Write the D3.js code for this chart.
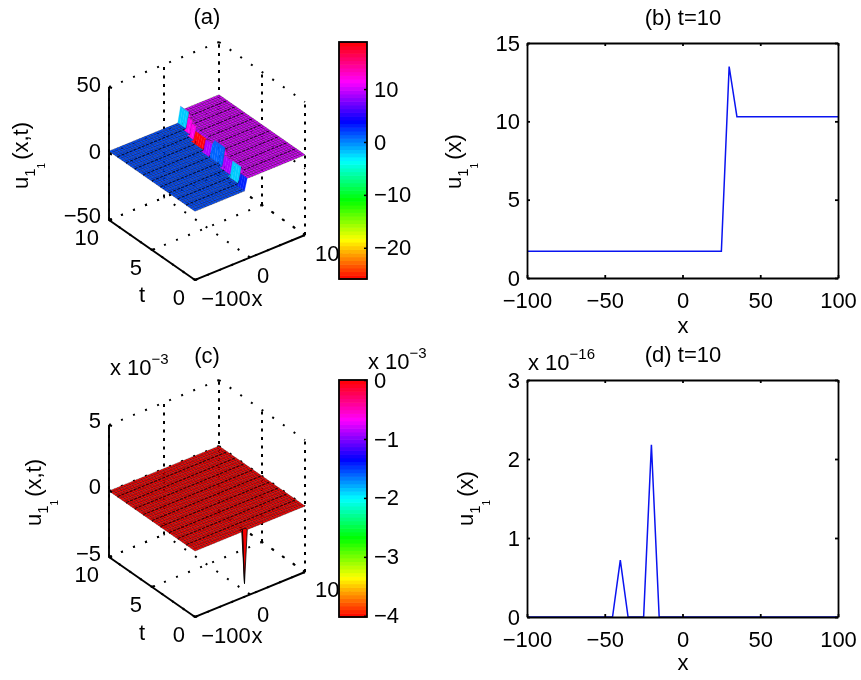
<!DOCTYPE html>
<html><head><meta charset="utf-8">
<style>
html,body{margin:0;padding:0;background:#fff}
svg{display:block;filter:blur(0.6px)}
text{font-family:"Liberation Sans",Arial,sans-serif;fill:#000}
</style>
<script src="https://cdn.jsdelivr.net/npm/d3@7"></script>
</head><body><svg id="c" width="861" height="680"></svg>
<script>
// ---- data ----
const lineBX = [-100, 25, 30, 35, 100];
const lineBY = [1.7, 1.7, 13.5, 10.3, 10.3];
const lineDX = [-100, -45, -40, -35, -25, -20, -15, 100];
const lineDY = [0, 0, 0.72, 0, 0, 2.18, 0, 0];
const ticks2DX = [-100, -50, 0, 50, 100];
const ticksBY = [0, 5, 10, 15];
const ticksDY = [0, 1, 2, 3];
const surfaceX = d3.range(-100, 101, 5);
const surfaceT = d3.range(0, 10.01, 0.25);
// panel (a): travelling step, one entry per ridge segment
const ridgeTEnd = [1, 2.2, 3.5, 4.8, 6, 7.4, 8.2, 9, 10.01];
const ridgeX = [-10, -5, 0, 5, 5, 10, 15, 20, 25];
const ridgeCrest = [10.5, 13.5, 11, 15, 11, 9.5, 11, 11.5, 13.5];
const ridgeWallValue = [3, -2, 9, 1, 9, 18.5, 12, 12, -2];
const levelLeft = 1.7, levelRight = 10.3;
// panel (c): flat sheet with one spike
const spikeX = -10, spikeT = 0, spikeValue = -4;
const ticksZA = [-50, 0, 50], ticksZC = [-5, 0, 5];
const ticksT = [0, 5, 10], ticksX = [-100, 0, 100];
const cbarTicksA = [-20, -10, 0, 10], cbarTicksC = [-4, -3, -2, -1, 0];
const cbarDomainA = [-25.9, 18.9], cbarDomainC = [-4.02, 0];

const svg = d3.select('#c');
const FS = 22;
const minus = s => String(s).replace('-', '\u2212');

function yLabel(x, y, arg) {
  const t = svg.append('text').attr('transform', `translate(${x},${y}) rotate(-90)`).attr('font-size', FS);
  t.append('tspan').text('u');
  t.append('tspan').attr('dy', 7).attr('font-size', 15).text('1');
  t.append('tspan').attr('dy', 10).attr('font-size', 10).text('1');
  t.append('tspan').attr('dy', -17).attr('dx', 3).text(arg);
}
function label(x, y, s, anchor, size) {
  return svg.append('text').attr('x', x).attr('y', y).attr('text-anchor', anchor || 'middle')
    .attr('font-size', size || FS).text(s);
}
function mult(x, y, exp) {
  const t = svg.append('text').attr('x', x).attr('y', y).attr('font-size', FS);
  t.append('tspan').text('x 10');
  t.append('tspan').attr('dy', -11).attr('font-size', 15).text(exp);
}

// ---- 2-D panels ----
function panel2D(box, xs, ys, yTicks, yMax) {
  const x = d3.scaleLinear([-100, 100], [box.l, box.r]);
  const y = d3.scaleLinear([0, yMax], [box.b, box.t]);
  svg.append('path').datum(d3.zip(xs, ys)).attr('fill', 'none').attr('stroke', '#0a14f0').attr('stroke-width', 1.5)
    .attr('d', d3.line().x(d => x(d[0])).y(d => y(d[1])));
  const fmt = d => minus(d);
  const style = g => { g.selectAll('path,line').attr('stroke', '#000').attr('stroke-width', 1.8);
    g.selectAll('text').attr('font-size', FS).attr('font-family', '"Liberation Sans"').attr('fill', '#000'); };
  svg.append('g').attr('transform', `translate(0,${box.b})`)
    .call(d3.axisBottom(x).tickValues(ticks2DX).tickFormat(fmt).tickSizeInner(-3).tickSizeOuter(0).tickPadding(14)).call(style);
  svg.append('g').attr('transform', `translate(0,${box.t})`)
    .call(d3.axisTop(x).tickValues(ticks2DX).tickFormat('').tickSizeInner(-3).tickSizeOuter(0)).call(style);
  svg.append('g').attr('transform', `translate(${box.l},0)`)
    .call(d3.axisLeft(y).tickValues(yTicks).tickFormat(fmt).tickSizeInner(-3).tickSizeOuter(0).tickPadding(7)).call(style);
  svg.append('g').attr('transform', `translate(${box.r},0)`)
    .call(d3.axisRight(y).tickValues(yTicks).tickFormat('').tickSizeInner(-3).tickSizeOuter(0)).call(style);
}

// ---- 3-D panels ----
function panel3D(p) {
  const sx = d3.scaleLinear([-100, 100], [0, 1]);
  const st = d3.scaleLinear([0, 10], [0, 1]);
  const sz = d3.scaleLinear([p.zTicks[0], p.zTicks[2]], [0, 1]);
  const proj = (x, t, z) => [
    p.front[0] + sx(x) * p.xVec[0] + st(t) * p.tVec[0],
    p.front[1] + sx(x) * p.xVec[1] + st(t) * p.tVec[1] - sz(z) * p.zLen
  ];
  const [zMin, zMid, zMax] = p.zTicks;
  const dotted = svg.append('g').attr('fill', 'none').attr('stroke', '#000').attr('stroke-width', 2);
  const seg = (a, b, dash) => dotted.append('path')
    .attr('d', d3.line()([a, b])).attr('stroke-dasharray', dash);
  const DIAG = '2 11', VERT = '3 5.5';
  ticksT.forEach(t => { seg(proj(-100, t, zMin), proj(100, t, zMin), DIAG); });
  ticksX.forEach(x => { seg(proj(x, 0, zMin), proj(x, 10, zMin), DIAG); });
  p.zTicks.forEach(z => { seg(proj(-100, 10, z), proj(100, 10, z), DIAG); seg(proj(100, 10, z), proj(100, 0, z), DIAG); });
  ticksX.forEach(x => seg(proj(x, 10, zMin), proj(x, 10, zMax), VERT));
  ticksT.forEach(t => seg(proj(100, t, zMin), proj(100, t, zMax), VERT));

  // surface, far cells first
  const g = svg.append('g');
  for (let j = surfaceT.length - 2; j >= 0; j--) {
    for (let i = surfaceX.length - 2; i >= 0; i--) {
      const x0 = surfaceX[i], x1 = surfaceX[i + 1], t0 = surfaceT[j], t1 = surfaceT[j + 1];
      const steep = Math.abs(p.z(x1, t0) - p.z(x0, t0)) > p.steep;
      const fill = p.color(p.cellValue(x0, t0));
      g.append('path')
        .attr('d', d3.line()([proj(x0, t0, p.z(x0, t0)), proj(x1, t0, p.z(x1, t0)), proj(x1, t1, p.z(x1, t1)), proj(x0, t1, p.z(x0, t1))]) + 'Z')
        .attr('fill', fill)
        .attr('stroke', steep ? p.steepStroke(fill) : '#000')
        .attr('stroke-width', steep ? p.steepWidth : 0.5)
        .attr('stroke-opacity', steep ? 0.9 : 0.55);
    }
    if (j % 4 === 0 && j > 0) {
      g.append('path').attr('fill', 'none').attr('stroke', '#000').attr('stroke-width', 2).attr('stroke-opacity', 0.75)
        .attr('stroke-dasharray', '3 1.4')
        .attr('d', d3.line()(surfaceX.filter(x => !p.nearRidge(x, surfaceT[j])).map(x => proj(x, surfaceT[j], p.z(x, surfaceT[j])))));
    }
  }
  // solid axes
  const axes = svg.append('g').attr('fill', 'none').attr('stroke', '#000').attr('stroke-width', 1.9);
  axes.append('path').attr('d', d3.line()([proj(-100, 10, zMax), proj(-100, 10, zMin), proj(-100, 0, zMin), proj(100, 0, zMin)]));
  const tick = (a, dx, dy) => axes.append('path').attr('d', d3.line()([a, [a[0] + dx, a[1] + dy]]));
  p.zTicks.forEach(z => tick(proj(-100, 10, z), 3, 1));
  ticksT.forEach(t => tick(proj(-100, t, zMin), 3, -1.2));
  ticksX.forEach(x => tick(proj(x, 0, zMin), -2, -1.5));
  // tick labels
  p.zTicks.forEach((z, k) => { const q = proj(-100, 10, z); label(q[0] - 8, q[1] + p.zLabelDy[k], minus(z), 'end'); });
  ticksT.forEach(t => { const q = proj(-100, t, zMin); label(q[0] - 10, q[1] + 25, t, 'end'); });
  label(226, p.front[1] + p.xLabelDy[0], minus(-100));
  label(263, p.front[1] + p.xLabelDy[1], '0');
  label(315, p.front[1] + p.xLabelDy[2], '100', 'start');
  label(257, p.front[1] + p.xLabelDy[0], 'x');
  label(142, p.front[1] + p.tDy, 't');
}

function colorbar(top, bottom, domain, ticks) {
  const left = 339, right = 367;
  const hue = d3.scaleLinear(domain, [0, 360]);
  const y = d3.scaleLinear(domain, [bottom, top]);
  const n = 64;
  const levels = d3.range(n).map(k => domain[0] + (domain[1] - domain[0]) * k / n);
  const step = (domain[1] - domain[0]) / n;
  svg.append('g').selectAll('rect').data(levels).join('rect')
    .attr('x', left).attr('width', right - left)
    .attr('y', d => y(d + step)).attr('height', d => y(d) - y(d + step) + 0.6)
    .attr('fill', d => d3.hsl(hue(d + step / 2), 1, 0.5));
  svg.append('rect').attr('x', left).attr('y', top).attr('width', right - left).attr('height', bottom - top)
    .attr('fill', 'none').attr('stroke', '#000').attr('stroke-width', 1.8);
  const g = d3.axisRight(y).tickValues(ticks).tickFormat(d => minus(d)).tickSizeInner(-3).tickSizeOuter(0).tickPadding(7);
  const ax = svg.append('g').attr('transform', `translate(${right},0)`).call(g);
  ax.select('.domain').remove();
  ax.selectAll('line').attr('stroke', '#000').attr('stroke-width', 1.5);
  ax.selectAll('text').attr('font-size', FS).attr('font-family', '"Liberation Sans"').attr('fill', '#000');
  return hue;
}

const segIndex = t => ridgeTEnd.findIndex(e => t < e);
function zA(x, t) {
  const k = segIndex(t), X = ridgeX[k];
  if (x <= X) return levelLeft;
  if (x === X + 5) return ridgeCrest[k];
  return levelRight;
}
function cellA(x, t) {
  const k = segIndex(t);
  return x === ridgeX[k] ? ridgeWallValue[k] : zA(x, t);
}
function zC(x, t) { return (x === spikeX && t === spikeT) ? spikeValue : 0; }

// panel (a)
label(207, 24, '(a)');
panel3D({
  front: [195, 280], xVec: [110, -45], tVec: [-86, -60], zLen: 133, zTicks: ticksZA,
  zLabelDy: [3, 5, 5], xLabelDy: [26, 3, -19], tDy: 22, steep: 2,
  steepStroke: f => f, steepWidth: 0.3,
  nearRidge: (x, t) => { const X = ridgeX[segIndex(t)]; return x > X && x < X + 10; },
  z: zA, cellValue: cellA,
  color: v => d3.hsl(d3.scaleLinear(cbarDomainA, [0, 360])(v), 1, 0.5)
});
yLabel(28, 189, '(x,t)');
colorbar(42, 279, cbarDomainA, cbarTicksA);

// panel (c)
label(207, 363, '(c)');
mult(110, 375, '\u22123');
panel3D({
  front: [195, 617], xVec: [110, -45], tVec: [-86, -60], zLen: 132, zTicks: ticksZC,
  zLabelDy: [4, 3, 3], xLabelDy: [26, 5, -20], tDy: 23, steep: 1,
  steepStroke: () => '#000', steepWidth: 0.9,
  nearRidge: () => false,
  z: zC, cellValue: () => 0,
  color: () => d3.hsl(0, 1, 0.48)
});
yLabel(41, 526, '(x,t)');
colorbar(380, 617, cbarDomainC, cbarTicksC);
mult(368, 369, '\u22123');

// panel (b)
label(683, 25, '(b) t=10');
panel2D({ l: 527, r: 838, t: 43, b: 278 }, lineBX, lineBY, ticksBY, 15);
label(683, 333, 'x');
yLabel(461, 189, '(x)');

// panel (d)
label(683, 362, '(d) t=10');
mult(528, 370, '\u221216');
panel2D({ l: 527, r: 838, t: 380, b: 617 }, lineDX, lineDY, ticksDY, 3);
label(683, 670, 'x');
yLabel(473, 526, '(x)');
</script></body></html>
